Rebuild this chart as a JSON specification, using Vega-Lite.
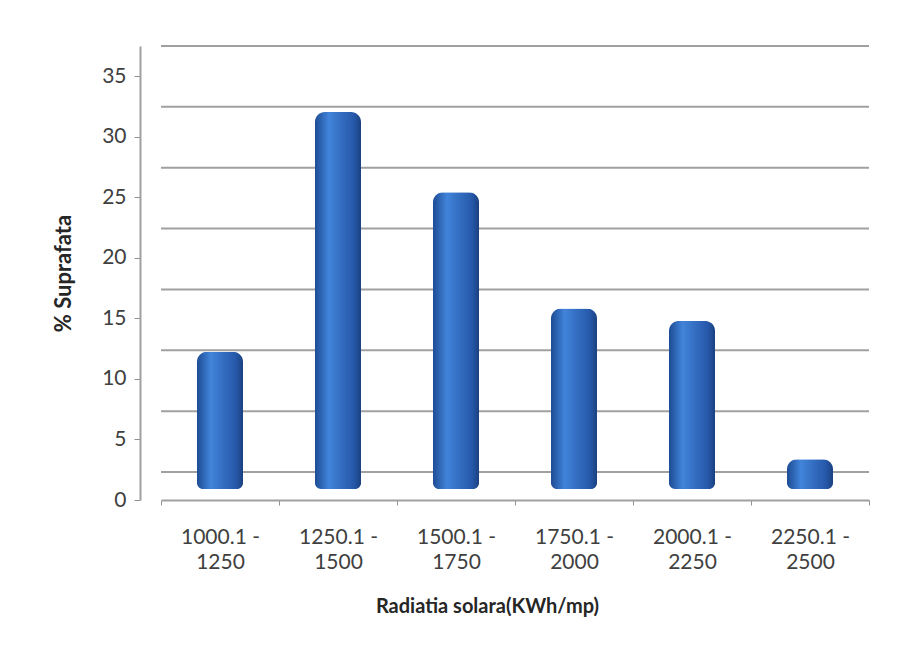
{
  "$schema": "https://vega.github.io/schema/vega-lite/v6.json",
  "width": 708,
  "height": 454,
  "autosize": {"type": "none"},
  "padding": {"left": 161, "top": 46, "right": 50, "bottom": 147},
  "background": "white",
  "config": {
    "view": {"stroke": null},
    "font": "Lato",
    "axis": {"labelFont": "Lato", "titleFont": "Lato"}
  },
  "datasets": {
    "bars": [
      {"range": "1000.1 - 1250", "pct": 11.1},
      {"range": "1250.1 - 1500", "pct": 30.5},
      {"range": "1500.1 - 1750", "pct": 24.0},
      {"range": "1750.1 - 2000", "pct": 14.6},
      {"range": "2000.1 - 2250", "pct": 13.6},
      {"range": "2250.1 - 2500", "pct": 2.4}
    ],
    "ticks": [
      {"v": 0}, {"v": 5}, {"v": 10}, {"v": 15}, {"v": 20}, {"v": 25}, {"v": 30}, {"v": 35}
    ]
  },
  "layer": [
    {
      "data": {"name": "ticks"},
      "mark": {"type": "rule", "color": "#a0a0a0", "strokeWidth": 2},
      "encoding": {
        "y": {"field": "v", "type": "quantitative", "scale": {"domain": [-2.3, 35], "nice": false, "zero": false}, "axis": null}
      }
    },
    {
      "data": {"name": "bars"},
      "mark": {
        "type": "bar",
        "width": {"band": 0.39},
        "cornerRadiusTopLeft": 10,
        "cornerRadiusTopRight": 10,
        "cornerRadiusBottomLeft": 6,
        "cornerRadiusBottomRight": 6,
        "fill": {
          "x1": 0, "y1": 0, "x2": 1, "y2": 0,
          "gradient": "linear",
          "stops": [
            {"offset": 0, "color": "#1d4c94"},
            {"offset": 0.3, "color": "#4184da"},
            {"offset": 0.5, "color": "#3773c7"},
            {"offset": 0.85, "color": "#2658a9"},
            {"offset": 1, "color": "#1a417f"}
          ]
        }
      },
      "encoding": {
        "x": {
          "field": "range", "type": "nominal", "sort": null,
          "scale": {"paddingInner": 0, "paddingOuter": 0},
          "axis": {
            "title": "Radiatia solara(KWh/mp)",
            "titleFontSize": 20,
            "titleFontWeight": "bold",
            "titleColor": "#262626",
            "titleX": 326,
            "titlePadding": 24,
            "labelAngle": 0,
            "labelFontSize": 21,
            "labelColor": "#404040",
            "labelLineHeight": 25,
            "labelPadding": 21,
            "labelExpr": "[substring(datum.label, 0, 8), substring(datum.label, 9)]",
            "tickBand": "extent",
            "tickOffset": -21,
            "tickColor": "#909090",
            "tickSize": 5,
            "domainColor": "#a0a0a0",
            "domainWidth": 2,
            "grid": false
          }
        },
        "y": {"field": "pct", "type": "quantitative", "scale": {"domain": [-0.89, 35.84], "nice": false, "zero": false}, "axis": null}
      }
    },
    {
      "data": {"name": "ticks"},
      "mark": {"type": "rule", "strokeOpacity": 0},
      "encoding": {
        "y": {
          "field": "v", "type": "quantitative",
          "scale": {"domain": [0, 37.5], "nice": false},
          "axis": {
            "orient": "left",
            "offset": 21,
            "values": [0, 5, 10, 15, 20, 25, 30, 35],
            "title": "% Suprafata",
            "titleFontSize": 22,
            "titleFontWeight": "bold",
            "titleColor": "#262626",
            "titlePadding": 26,
            "labelFontSize": 21,
            "labelColor": "#404040",
            "labelPadding": 8,
            "tickColor": "#909090",
            "tickSize": 6,
            "domainColor": "#a0a0a0",
            "domainWidth": 2,
            "grid": false
          }
        }
      }
    }
  ],
  "resolve": {"scale": {"y": "independent"}, "axis": {"y": "independent"}}
}
